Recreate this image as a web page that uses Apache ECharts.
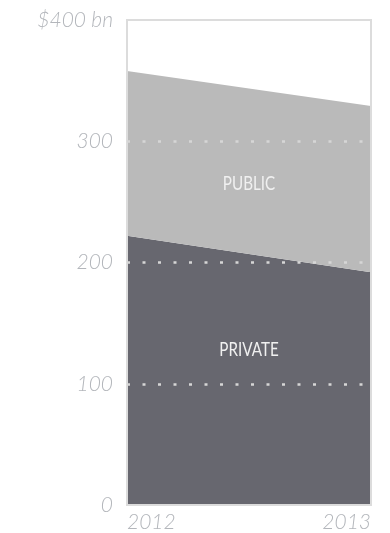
<!DOCTYPE html>
<html>
<head>
<meta charset="utf-8">
<script src="https://cdn.jsdelivr.net/npm/echarts@6/dist/echarts.min.js"></script>
<style>
  html, body { margin: 0; padding: 0; background: #fff; }
  #chart { width: 390px; height: 533px; }
</style>
</head>
<body>
<div id="chart"></div>
<script>
// Years on the horizontal axis
const years = ['2012', '2013'];
// Spending in $ bn, stacked: private at the bottom, public on top
const privateValues = [222, 192];
const publicValues = [136, 137];
// Vertical axis range and step
const yMin = 0;
const yMax = 400;
const yStep = 100;
// Band captions and the value height where each is written
const bandNames = ['PRIVATE', 'PUBLIC'];
const bandLabelValues = [128, 265];

const chart = echarts.init(document.getElementById('chart'), null, { renderer: 'canvas' });

const labelFont = {
  color: '#b3b6bb',
  fontFamily: 'Lato',
  fontStyle: 'italic',
  fontWeight: 300,
  fontSize: 21
};

chart.setOption({
  animation: false,
  grid: {
    left: 127, right: 19, top: 20, bottom: 27,
    show: true,
    z: 3,
    backgroundColor: 'transparent',
    borderColor: '#dcdcdc',
    borderWidth: 2
  },
  xAxis: {
    type: 'category',
    data: years,
    boundaryGap: false,
    axisLine: { show: false },
    axisTick: { show: false },
    axisLabel: Object.assign({
      margin: 7,
      alignMinLabel: 'left',
      alignMaxLabel: 'right'
    }, labelFont)
  },
  yAxis: {
    type: 'value',
    min: yMin,
    max: yMax,
    interval: yStep,
    z: 4,
    axisLine: { show: false },
    axisTick: { show: false },
    axisLabel: Object.assign({
      margin: 14,
      formatter: v => (v === yMax ? '$' + v + ' bn' : String(v))
    }, labelFont),
    splitLine: {
      show: true,
      showMinLine: false,
      showMaxLine: false,
      lineStyle: { color: '#d6d6d6', width: 2.5, type: [3, 12.5] }
    }
  },
  series: [
    {
      name: bandNames[0],
      type: 'line',
      stack: 'total',
      z: 1,
      data: privateValues,
      symbol: 'none',
      lineStyle: { width: 0 },
      areaStyle: { color: '#67676f', opacity: 1 }
    },
    {
      name: bandNames[1],
      type: 'line',
      stack: 'total',
      z: 1,
      data: publicValues,
      symbol: 'none',
      lineStyle: { width: 0 },
      areaStyle: { color: '#bababa', opacity: 1 }
    }
  ]
});

// Place the band captions in the middle of the plot width, in a narrow face
const leftX = chart.convertToPixel({ xAxisIndex: 0 }, years[0]);
const rightX = chart.convertToPixel({ xAxisIndex: 0 }, years[years.length - 1]);
const midX = (leftX + rightX) / 2;
chart.setOption({
  graphic: bandNames.map((name, i) => ({
    type: 'text',
    z: 10,
    x: midX,
    y: chart.convertToPixel({ yAxisIndex: 0 }, bandLabelValues[i]),
    scaleX: 0.8,
    style: {
      text: name,
      fill: '#f0f0f0',
      font: '19px "Liberation Sans Narrow", Lato, sans-serif',
      align: 'center',
      verticalAlign: 'middle'
    }
  }))
});
</script>
</body>
</html>
